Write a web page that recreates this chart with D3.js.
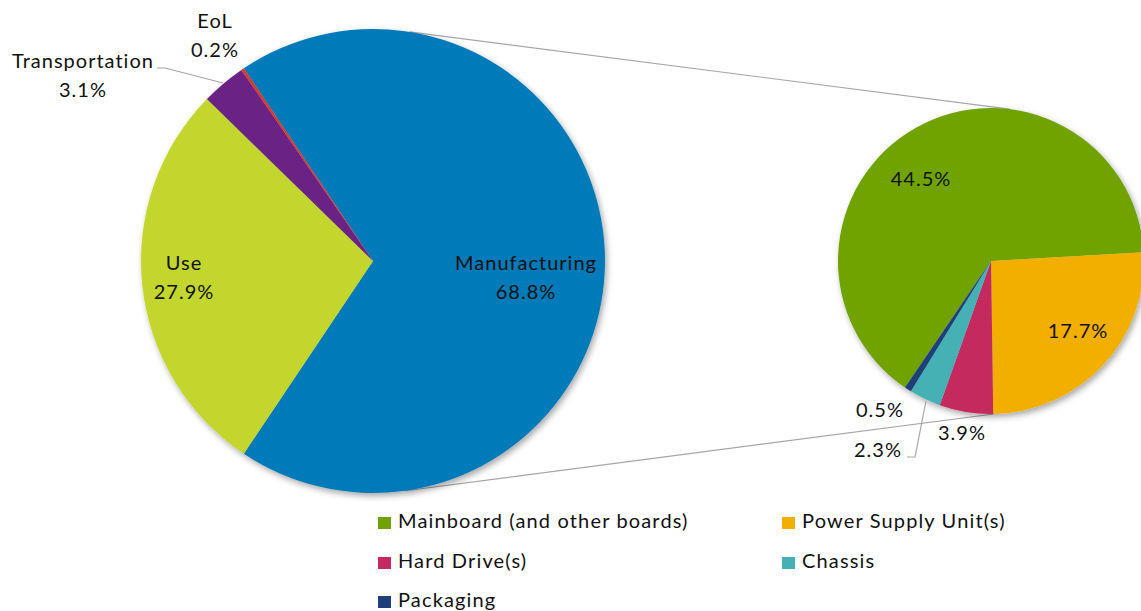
<!DOCTYPE html>
<html>
<head>
<meta charset="utf-8">
<script src="https://cdn.jsdelivr.net/npm/d3@7"></script>
<style>
  body { margin: 0; background: #fff; }
  svg { display: block; font-family: Lato, "Open Sans", sans-serif; }
</style>
</head>
<body>
<main></main>
<script>
const width = 1141;
const height = 611;

// main pie: life cycle phases
const phases = ['Manufacturing', 'Use', 'Transportation', 'EoL'];
const phaseValues = [68.8, 27.9, 3.1, 0.2];
const phaseColors = ['#007ab8', '#c2d62e', '#6b2185', '#d9382b'];

// secondary pie: manufacturing breakdown
const parts = ['Mainboard (and other boards)', 'Power Supply Unit(s)', 'Hard Drive(s)', 'Chassis', 'Packaging'];
const partValues = [44.5, 17.7, 3.9, 2.3, 0.5];
const partColors = ['#70a204', '#f2af00', '#c5295f', '#45b1b5', '#1f3f7a'];

const main = {cx: 373, cy: 261, r: 232};
const sub = {cx: 991, cy: 261, r: 153};

const rad = (deg) => deg * Math.PI / 180;
const fmt = (v) => v.toFixed(1) + '%';

const createCanvas = () => {
    const svg = d3.select('main')
                  .append('svg')
                  .attr('width', width)
                  .attr('height', height);

    const f = svg.append('defs').append('filter')
                 .attr('id', 'shadow')
                 .attr('x', '-10%').attr('y', '-10%')
                 .attr('width', '125%').attr('height', '125%');
    f.append('feDropShadow')
     .attr('dx', 2).attr('dy', 3)
     .attr('stdDeviation', 3)
     .attr('flood-color', '#000')
     .attr('flood-opacity', 0.35);
    return svg;
};

const pointOn = (p, deg) => [p.cx + p.r * Math.sin(rad(deg)), p.cy - p.r * Math.cos(rad(deg))];

const drawConnectors = (svg) => {
    // lines joining the split slice to the second pie
    const pairs = [[pointOn(main, 9), pointOn(sub, 7)],
                   [pointOn(main, 172), pointOn(sub, 179)]];
    svg.selectAll('line.connector')
       .data(pairs)
       .enter()
       .append('line')
       .attr('class', 'connector')
       .attr('x1', d => d[0][0]).attr('y1', d => d[0][1])
       .attr('x2', d => d[1][0]).attr('y2', d => d[1][1])
       .attr('stroke', '#a6a6a6')
       .attr('stroke-width', 1.2);
};

const drawPie = (svg, p, values, colors, startDeg) => {
    const pie = d3.pie().sort(null)
                  .startAngle(rad(startDeg))
                  .endAngle(rad(startDeg + 360));
    const arc = d3.arc().innerRadius(0).outerRadius(p.r);
    const g = svg.append('g')
                 .attr('transform', `translate(${p.cx},${p.cy})`)
                 .attr('filter', 'url(#shadow)');
    g.selectAll('path')
     .data(pie(values))
     .enter()
     .append('path')
     .attr('d', arc)
     .attr('fill', (d, i) => colors[i]);
};

const label = (svg, x, y, lines) => {
    const t = svg.append('text')
                 .attr('x', x).attr('y', y)
                 .attr('text-anchor', 'middle')
                 .attr('font-size', 20)
                 .attr('letter-spacing', 1)
                 .attr('fill', '#111');
    lines.forEach((s, i) => {
        t.append('tspan').attr('x', x).attr('dy', i === 0 ? 0 : 29).text(s);
    });
};

const drawLabels = (svg) => {
    label(svg, main.cx + 153, 270, [phases[0], fmt(phaseValues[0])]);
    label(svg, 184, 270, [phases[1], fmt(phaseValues[1])]);
    label(svg, 83, 68, [phases[2], fmt(phaseValues[2])]);
    label(svg, 215, 28, [phases[3], fmt(phaseValues[3])]);

    label(svg, 921, 186, [fmt(partValues[0])]);
    label(svg, 1078, 338, [fmt(partValues[1])]);
    label(svg, 962, 440, [fmt(partValues[2])]);
    label(svg, 878, 457, [fmt(partValues[3])]);
    label(svg, 880, 417, [fmt(partValues[4])]);

    const leader = d3.line();
    svg.append('path')
       .attr('d', leader([[157, 68], [165, 68], [223, 83]]))
       .attr('fill', 'none').attr('stroke', '#a6a6a6').attr('stroke-width', 1.2);
    svg.append('path')
       .attr('d', leader([[907, 457], [915, 457], [926, 401]]))
       .attr('fill', 'none').attr('stroke', '#a6a6a6').attr('stroke-width', 1.2);
};

const drawLegend = (svg) => {
    const cols = [378, 782];
    const rows = [528, 568, 607];
    const items = svg.selectAll('g.legend')
                     .data(parts)
                     .enter()
                     .append('g')
                     .attr('class', 'legend')
                     .attr('transform', (d, i) => `translate(${cols[i % 2]},${rows[Math.floor(i / 2)]})`);
    items.append('rect')
         .attr('x', 0).attr('y', -11)
         .attr('width', 13).attr('height', 12)
         .attr('fill', (d, i) => partColors[i]);
    items.append('text')
         .attr('x', 20).attr('y', 0)
         .attr('font-size', 20)
         .attr('letter-spacing', 1.15)
         .attr('fill', '#111')
         .text(d => d);
};

const driver = () => {
    const svg = createCanvas();
    drawConnectors(svg);

    // split slice (Manufacturing) centred on the right side
    const mainTotal = d3.sum(phaseValues);
    const mainStart = 90 - (phaseValues[0] / mainTotal) * 180;
    drawPie(svg, main, phaseValues, phaseColors, mainStart);

    // second pie: power supply begins just above three o'clock
    const subTotal = d3.sum(partValues);
    const subStart = 86.7 - (partValues[0] / subTotal) * 360;
    drawPie(svg, sub, partValues, partColors, subStart);

    drawLabels(svg);
    drawLegend(svg);
};

driver();
</script>
</body>
</html>
